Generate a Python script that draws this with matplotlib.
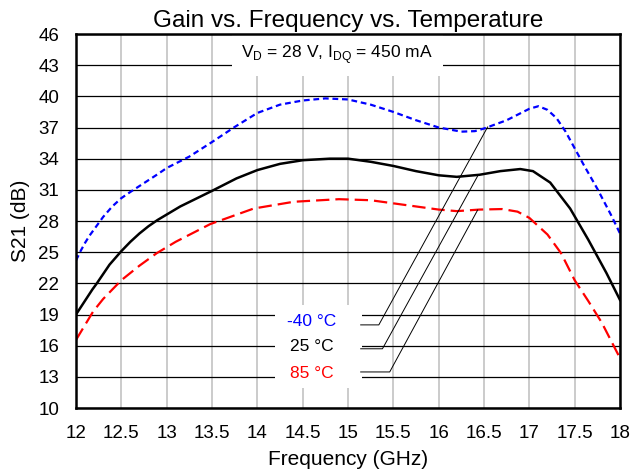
import numpy as np
import matplotlib
matplotlib.use("Agg")
import matplotlib.pyplot as plt
from matplotlib.patches import Rectangle

plt.rcParams["font.family"] = ["Liberation Sans", "DejaVu Sans"]
plt.rcParams["mathtext.fontset"] = "custom"
plt.rcParams["mathtext.rm"] = "Liberation Sans"

# -40 C
f_cold = [12.0, 12.05, 12.1, 12.15, 12.2, 12.3, 12.4, 12.5, 12.6, 12.75, 12.9,
          13.0, 13.25, 13.5, 13.75, 14.0, 14.25, 14.5, 14.75, 15.0, 15.25, 15.5,
          15.75, 16.0, 16.25, 16.4, 16.5, 16.75, 17.0, 17.1, 17.2, 17.3, 17.4,
          17.5, 17.6, 17.75, 17.9, 18.0]
g_cold = [24.2, 25.1, 25.9, 26.6, 27.2, 28.4, 29.4, 30.2, 30.8, 31.65, 32.5,
          33.1, 34.2, 35.6, 37.05, 38.4, 39.2, 39.6, 39.8, 39.7, 39.2, 38.5,
          37.7, 37.0, 36.6, 36.65, 36.9, 37.7, 38.8, 39.05, 38.7, 37.9, 36.6,
          35.0, 33.4, 31.1, 28.6, 26.8]

# 25 C
f_room = [12.0, 12.06, 12.12, 12.18, 12.23, 12.3, 12.37, 12.44, 12.5, 12.6,
          12.7, 12.8, 12.9, 13.15, 13.5, 13.77, 14.0, 14.25, 14.5, 14.8, 15.0,
          15.25, 15.5, 15.75, 16.0, 16.2, 16.45, 16.68, 16.9, 17.04, 17.23,
          17.45, 17.65, 17.85, 18.0]
g_room = [19.0, 19.8, 20.6, 21.4, 22.0, 22.9, 23.8, 24.5, 25.1, 26.0,
          26.8, 27.5, 28.1, 29.4, 30.9, 32.1, 32.9, 33.5, 33.85, 34.0, 34.0,
          33.7, 33.3, 32.8, 32.4, 32.25, 32.45, 32.8, 33.0, 32.8, 31.7,
          29.2, 26.2, 23.0, 20.4]

# 85 C
f_hot = [12.0, 12.1, 12.19, 12.3, 12.5, 12.7, 12.89, 13.1, 13.48, 13.96, 14.4,
         14.9, 15.25, 15.5, 15.75, 16.0, 16.2, 16.45, 16.7, 16.87, 17.0, 17.2,
         17.35, 17.5, 17.65, 17.8, 18.0]
g_hot = [16.55, 18.0, 19.3, 20.5, 22.3, 23.7, 24.9, 26.0, 27.7, 29.2, 29.85,
         30.1, 30.0, 29.7, 29.4, 29.1, 28.95, 29.1, 29.15, 28.9, 28.3, 26.7,
         24.9, 22.3, 20.3, 18.2, 14.8]

labels = ["-40 °C", "25 °C", "85 °C"]
colors = ["#0000ff", "#000000", "#ff0000"]

xticks = np.arange(12, 18.01, 0.5)
yticks = np.arange(10, 46.1, 3)

fig = plt.figure(figsize=(6.33, 4.74), dpi=100)
ax = fig.add_axes([76 / 633, 1 - 408 / 474, 544 / 633, 374 / 474])

ax.plot(f_cold, g_cold, color=colors[0], lw=1.6, ls=(0, (2.6, 1.7)), zorder=3)
ax.plot(f_room, g_room, color=colors[1], lw=1.8, zorder=3)
ax.plot(f_hot, g_hot, color=colors[2], lw=1.6, ls=(0, (6.0, 2.7)), zorder=3)

ax.set_xlim(12, 18)
ax.set_ylim(10, 46)
ax.set_xticks(xticks)
ax.set_xticklabels([f"{v:g}" for v in xticks])
ax.set_yticks(yticks)
for v in xticks:
    ax.axvline(v, color="#bdbdbd", lw=1.1, zorder=1)
for v in yticks:
    ax.axhline(v, color="black", lw=0.9, zorder=1)
ax.tick_params(length=0, labelsize=13.5, pad=12)
ax.tick_params(axis="y", pad=12)
for s in ax.spines.values():
    s.set_linewidth(1.8)
    s.set_zorder(5)

ax.set_title("Gain vs. Frequency vs. Temperature", fontsize=17.5, pad=5)
ax.set_xlabel("Frequency (GHz)", fontsize=15)
ax.set_ylabel("S21 (dB)", fontsize=15)
ax.xaxis.set_label_coords(0.5, -0.112)
ax.yaxis.set_label_coords(-0.085, 0.5)

# bias condition note
ax.text(14.88, 44.0, r"V$_\mathregular{D}$ = 28 V, I$_\mathregular{DQ}$ = 450 mA",
        fontsize=12.5, ha="center", va="center", zorder=2,
        bbox=dict(fc="white", ec="none", pad=7))

# temperature labels with leader lines
ax.add_patch(Rectangle((14.19, 11.93), 0.96, 7.99, fc="white", ec="none", zorder=2))
lab_y = [18.3, 15.9, 13.3]
hook_y = [18.0, 15.7, 13.47]
hook_x = [15.34, 15.38, 15.46]
tip_x = [16.54, 16.43, 16.43]
tip_y = [37.05, 32.33, 29.06]
for i in range(3):
    ax.text(14.6, lab_y[i], labels[i], color=colors[i], fontsize=12.5,
            ha="center", va="center", zorder=4)
    ax.plot([15.14, hook_x[i], tip_x[i]], [hook_y[i], hook_y[i], tip_y[i]],
            color="black", lw=0.7, zorder=4)

fig.savefig("out.png", dpi=100)
